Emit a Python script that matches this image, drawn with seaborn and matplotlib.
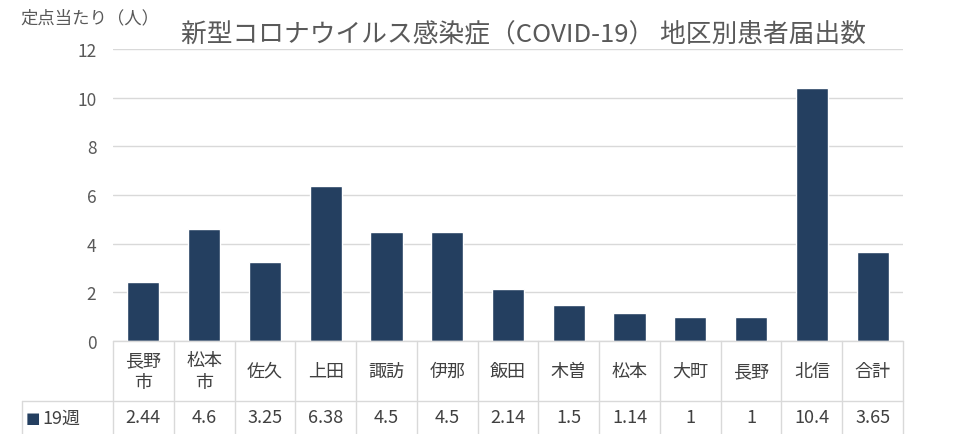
import pandas as pd
import seaborn as sns
import matplotlib.pyplot as plt

sns.set_theme(style="white")
plt.rcParams['font.family'] = ['Noto Sans CJK JP', 'DejaVu Sans']

# Data
areas = ['長野\n市', '松本\n市', '佐久', '上田', '諏訪', '伊那', '飯田', '木曽', '松本', '大町', '長野', '北信', '合計']
values = [2.44, 4.6, 3.25, 6.38, 4.5, 4.5, 2.14, 1.5, 1.14, 1, 1, 10.4, 3.65]
value_labels = ['2.44', '4.6', '3.25', '6.38', '4.5', '4.5', '2.14', '1.5', '1.14', '1', '1', '10.4', '3.65']
series_name = '19週'
title = '新型コロナウイルス感染症（COVID-19） 地区別患者届出数'
ylabel = '定点当たり（人）'

bar_color = '#243F60'
text_color = '#595959'
table_text = '#404040'
grid_color = '#D9D9D9'

df = pd.DataFrame({'area': areas, 'value': values})

fig = plt.figure(figsize=(9.8, 4.35), dpi=100)
ax = fig.add_axes([113 / 980, 1 - 342 / 435, 790 / 980, 292 / 435])

sns.barplot(ax=ax, data=df, x='area', y='value', color=bar_color, width=0.53, saturation=1)

ax.set_ylim(0, 12)
ax.set_yticks(range(0, 13, 2))
ax.set_xlim(-0.5, len(areas) - 0.5)
ax.yaxis.grid(True, color=grid_color, linewidth=1)
ax.set_axisbelow(True)
for s in ax.spines.values():
    s.set_visible(False)
ax.set_xlabel('')
ax.set_ylabel('')
ax.set_xticks([])
ax.tick_params(axis='y', length=0, labelsize=12.5, labelcolor=text_color, pad=12)

ax.set_title(title, fontsize=18.5, color=text_color, pad=6, x=0.52)
fig.text(20 / 980, 1 - 18 / 435, ylabel, fontsize=12.5, color=text_color, va='center', ha='left')

# Data table below the plot
trans = ax.get_xaxis_transform()
row_split = -60 / 292
bottom = -93 / 292
n = len(areas)
for i in range(n + 1):
    ax.plot([i - 0.5, i - 0.5], [0, bottom], transform=trans, color=grid_color, lw=1, clip_on=False)
left_x = -0.5 - 91 / (790 / n)
ax.plot([left_x, n - 0.5], [row_split, row_split], transform=trans, color=grid_color, lw=1, clip_on=False)
ax.plot([left_x, left_x], [row_split, bottom], transform=trans, color=grid_color, lw=1, clip_on=False)
ax.plot([-0.5, n - 0.5], [0, 0], transform=trans, color=grid_color, lw=1, clip_on=False)

for i, (a, v) in enumerate(zip(areas, value_labels)):
    ax.text(i, row_split / 2, a, transform=trans, ha='center', va='center',
            fontsize=13, color=table_text, linespacing=1.3)
    ax.text(i, (row_split + bottom) / 2, v, transform=trans, ha='center', va='center',
            fontsize=13, color=table_text)

ax.text(left_x + 0.06, (row_split + bottom) / 2, '■', transform=trans, ha='left', va='center',
        fontsize=11, color=bar_color, family='DejaVu Sans')
ax.text(left_x + 0.34, (row_split + bottom) / 2, series_name, transform=trans, ha='left', va='center',
        fontsize=13, color=table_text)

fig.savefig('out.png', dpi=100)
